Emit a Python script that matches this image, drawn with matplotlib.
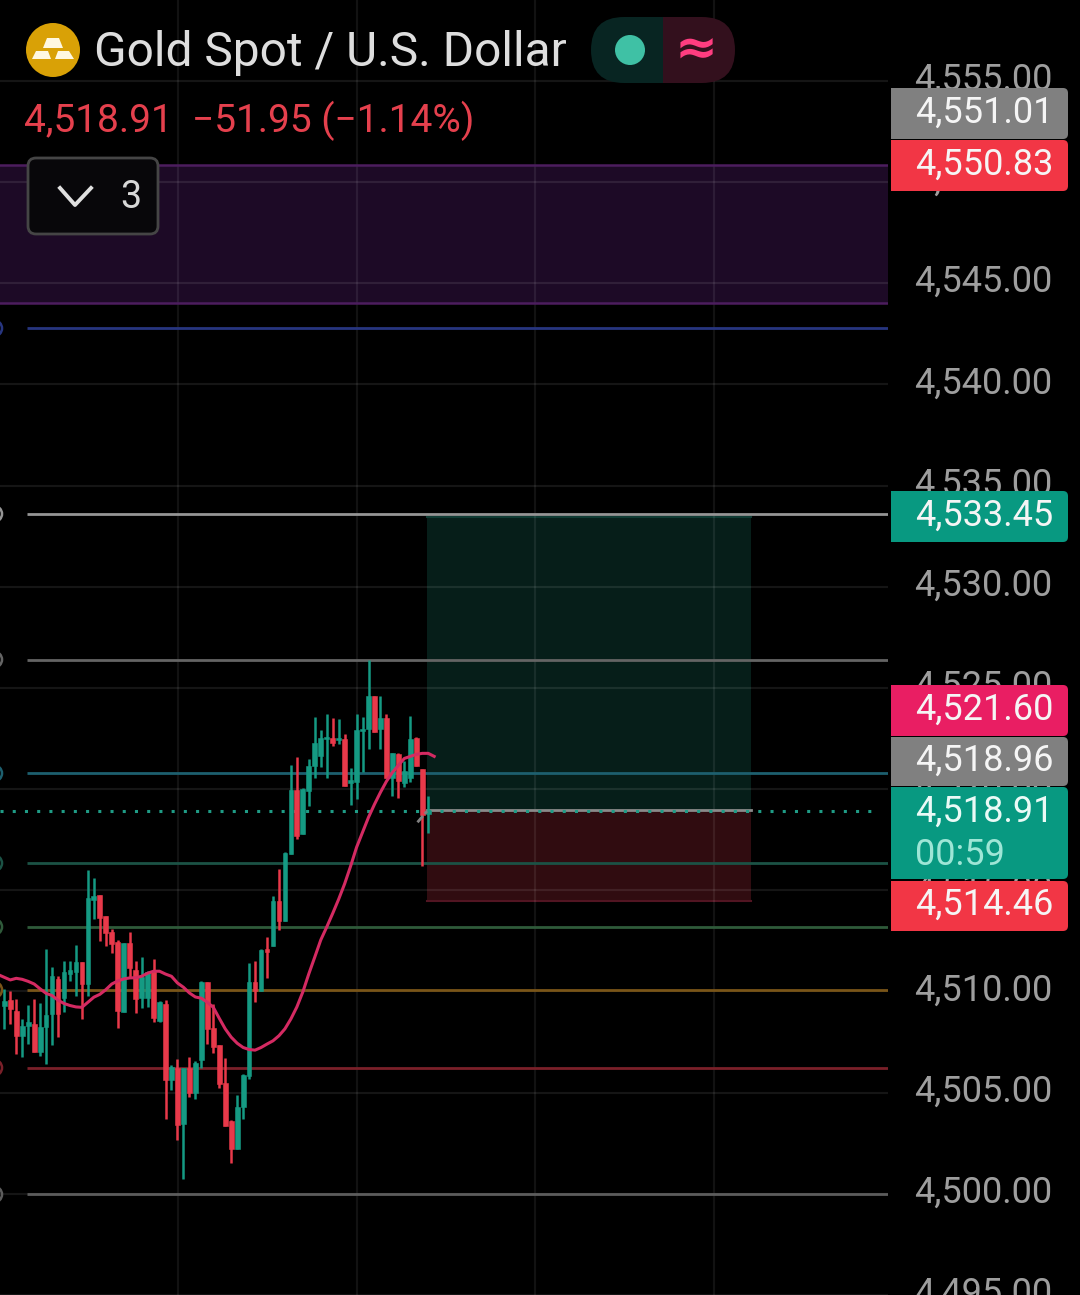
import numpy as np
import matplotlib
matplotlib.use('Agg')
import matplotlib.pyplot as plt
from matplotlib.patches import FancyBboxPatch, Rectangle, Circle, Polygon
from matplotlib.transforms import ScaledTranslation

plt.rcParams['font.family'] = ['Roboto', 'DejaVu Sans']

# candles
opens = [4509.18, 4509.47, 4508.93, 4507.70, 4508.19, 4508.28, 4506.88, 4508.11, 4508.77, 4510.49,
         4509.54, 4510.73, 4510.82, 4511.31, 4510.24, 4514.39, 4514.62, 4513.57, 4512.82, 4512.29,
         4508.85, 4512.26, 4510.95, 4509.54, 4509.54, 4510.82, 4508.44, 4509.26, 4505.49, 4506.09,
         4503.36, 4506.09, 4504.87, 4506.47, 4510.32, 4508.06, 4507.21, 4505.37, 4503.47, 4502.13,
         4504.18, 4505.70, 4510.32, 4509.91, 4511.96, 4512.10, 4514.34, 4513.36, 4516.67, 4519.80,
         4517.62, 4519.75, 4520.98, 4521.47, 4522.33, 4522.38, 4522.26, 4522.33, 4520.13, 4520.20,
         4522.70, 4522.79, 4524.42, 4522.79, 4523.33, 4520.41, 4521.57, 4520.16, 4520.41, 4522.38,
         4520.82, 4518.61]
closes = [4509.42, 4509.01, 4507.67, 4508.19, 4508.36, 4506.91, 4508.14, 4508.72, 4510.65, 4508.77,
          4510.82, 4510.95, 4511.31, 4510.24, 4514.46, 4514.59, 4513.47, 4512.75, 4512.21, 4508.93,
          4512.26, 4511.01, 4509.50, 4510.57, 4510.85, 4508.55, 4509.37, 4505.49, 4506.14, 4503.31,
          4506.09, 4504.88, 4506.36, 4510.36, 4508.03, 4507.13, 4505.32, 4503.24, 4502.13, 4504.18,
          4505.77, 4510.32, 4509.91, 4511.93, 4511.83, 4514.34, 4513.36, 4516.72, 4519.79, 4517.54,
          4519.83, 4520.98, 4522.10, 4522.38, 4522.42, 4522.13, 4522.38, 4520.00, 4520.29, 4522.74,
          4522.82, 4524.46, 4522.67, 4523.33, 4520.41, 4521.61, 4520.24, 4520.74, 4522.34, 4520.98,
          4518.56, 4518.77]
highs = [4510.00, 4509.91, 4509.50, 4508.52, 4509.21, 4509.50, 4509.31, 4511.96, 4511.06, 4510.65,
         4511.39, 4511.39, 4512.16, 4511.31, 4515.85, 4515.49, 4514.62, 4513.57, 4512.95, 4512.41,
         4512.26, 4512.78, 4511.36, 4511.55, 4510.90, 4511.47, 4509.42, 4509.46, 4506.23, 4506.55,
         4506.09, 4506.64, 4506.42, 4510.41, 4510.32, 4509.26, 4507.24, 4506.59, 4503.52, 4504.78,
         4505.82, 4511.28, 4511.39, 4511.96, 4512.54, 4514.59, 4515.93, 4516.77, 4521.06, 4521.44,
         4519.92, 4521.34, 4523.41, 4522.74, 4523.56, 4523.36, 4523.28, 4522.54, 4520.90, 4523.56,
         4523.41, 4526.23, 4524.46, 4524.46, 4523.56, 4521.64, 4521.61, 4521.23, 4523.47, 4522.42,
         4520.85, 4519.51]
lows = [4508.03, 4508.28, 4506.80, 4506.64, 4507.29, 4506.88, 4506.69, 4506.31, 4507.21, 4507.65,
        4508.85, 4510.41, 4509.64, 4508.52, 4509.64, 4513.44, 4512.37, 4512.13, 4511.77, 4508.08,
        4508.85, 4510.57, 4508.82, 4509.06, 4509.09, 4508.39, 4508.39, 4503.60, 4505.00, 4502.54,
        4500.62, 4504.67, 4504.59, 4506.09, 4507.29, 4506.85, 4505.11, 4503.24, 4501.44, 4502.10,
        4503.60, 4505.57, 4509.34, 4509.88, 4510.52, 4512.10, 4512.92, 4513.36, 4516.67, 4517.38,
        4517.62, 4519.02, 4520.38, 4520.93, 4520.38, 4521.97, 4522.08, 4520.00, 4519.06, 4519.34,
        4520.70, 4521.80, 4522.67, 4521.83, 4520.38, 4519.51, 4519.39, 4519.95, 4520.20, 4520.98,
        4516.06, 4517.67]

# moving average, starts one bar before the first candle
ma_values = [4510.70, 4510.57, 4510.44, 4510.52, 4510.47, 4510.37, 4510.24, 4510.00, 4509.78, 4509.67,
             4509.44, 4509.28, 4509.18, 4509.11, 4509.09, 4509.34, 4509.59, 4509.73, 4509.96, 4510.24,
             4510.39, 4510.49, 4510.54, 4510.55, 4510.62, 4510.77, 4510.87, 4510.87, 4510.73, 4510.62,
             4510.29, 4510.08, 4509.80, 4509.60, 4509.54, 4509.34, 4509.09, 4508.55, 4508.03, 4507.62,
             4507.32, 4507.11, 4507.01, 4506.98, 4507.11, 4507.28, 4507.44, 4507.69, 4508.03, 4508.52,
             4509.11, 4509.85, 4510.74, 4511.57, 4512.41, 4513.05, 4513.72, 4514.42, 4515.18, 4516.05,
             4516.98, 4517.72, 4518.46, 4519.10, 4519.69, 4520.23, 4520.67, 4521.02, 4521.36, 4521.46,
             4521.56, 4521.61, 4521.61, 4521.46]

# horizontal levels drawn on the chart
level_prices = [4542.77, 4533.60, 4526.40, 4520.78, 4516.34, 4513.19, 4510.08, 4506.23, 4499.97]
level_colors = ['#27357f', '#959595', '#646464', '#1d5f6e', '#1b5245', '#2f5a3a', '#7a5518', '#7a2029', '#5c5c5c']

# purple zone and long position
zone_top, zone_bottom = 4550.83, 4544.00
target_price, entry_price, stop_price = 4533.45, 4518.91, 4514.46
position_start, position_end = 70.8, 125.1

# price axis
y_ticks = list(range(4495, 4560, 5))
time_grid = [29.1, 59.0, 88.9, 118.9]

# labels on the price scale: text, top px, bottom px, colour
tag_texts = ['4,551.01', '4,550.83', '4,533.45', '4,521.60', '4,518.96', '4,518.91', '4,514.46']
tag_tops = [88, 140, 491, 685, 737, 787, 881]
tag_bottoms = [139, 191, 542, 736, 786, 879, 931]
tag_colors = ['#808080', '#f23645', '#089981', '#e91e63', '#808080', '#089981', '#f23645']


def on_axis(v):
    # candle readings were taken with a rough 20.33 px/$ scale, the axis grid is 20.28 px/$
    return 4510.128 + 1.002465 * (np.array(v) - 4510)


fig = plt.figure(figsize=(10.8, 12.95), dpi=100, facecolor='black')
ax = fig.add_axes([0, 0, 888 / 1080, 1], facecolor='black')
ax.set_ylim(4495.14, 4558.995)
for s in ax.spines.values():
    s.set_visible(False)

ax.set_xticks([])
ax.set_yticks(y_ticks)
ax.set_yticklabels([f'{t:,.2f}' for t in y_ticks])
ax.yaxis.tick_right()
ax.tick_params(axis='y', length=0, pad=19, labelsize=26, labelcolor='#9e9e9e')
lift = ScaledTranslation(0, 5 / 100, fig.dpi_scale_trans)
for lab in ax.get_yticklabels():
    lab.set_transform(lab.get_transform() + lift)

# zone
ax.axhspan(zone_bottom, zone_top, facecolor='#1d0a26', edgecolor='none', zorder=1)
ax.axhline(zone_top, color='#4c1d5e', lw=1.8, zorder=3)
ax.axhline(zone_bottom, color='#4c1d5e', lw=1.8, zorder=3)

# position box
ax.fill_between([position_start, position_end], entry_price, target_price, color='#061e19', lw=0, zorder=1)
ax.fill_between([position_start, position_end], stop_price, entry_price, color='#300c10', lw=0, zorder=1)
ax.plot([position_start, position_end], [target_price] * 2, color='#0e3a32', lw=1.5, zorder=2)
ax.plot([position_start, position_end], [stop_price] * 2, color='#521522', lw=1.5, zorder=2)

# grid goes over the fills
ax.grid(axis='y', color='white', alpha=0.085, lw=1.6, zorder=2)
ax.set_axisbelow(False)
for line in ax.get_ygridlines():
    line.set_zorder(2)
for g in time_grid:
    ax.axvline(g, color='white', alpha=0.075, lw=1.6, zorder=2)

# levels
ax.hlines(level_prices, 3.8, 148.0, colors=level_colors, lw=2, zorder=3)
ax.scatter([-1.72] * len(level_prices), level_prices, s=133, facecolor='none',
           edgecolor=level_colors, lw=1.8, zorder=3)

# entry line then the dotted last price line
ax.plot([position_start, position_end], [entry_price + 0.05] * 2, color='#8a8a8a', lw=2, zorder=3)
ax.hlines(entry_price, -0.72, 146.6, colors='#1f9c86', lw=2.2, linestyles=(0, (1, 3)), zorder=3)
ax.plot([69.2, 70.8], [entry_price - 0.55, entry_price], color='#808080', lw=2, ls=(0, (3, 1)), zorder=6)

# candles
x = np.arange(len(opens))
op = on_axis(opens)
cl = on_axis(closes)
colors = ['#159a83' if c >= o else '#e8394a' for o, c in zip(op, cl)]
ax.vlines(x, on_axis(lows), on_axis(highs), colors=colors, lw=1.8, zorder=4)
ax.bar(x, np.abs(cl - op), bottom=np.minimum(op, cl), width=0.8, color=colors,
       edgecolor=colors, lw=0.4, zorder=4)

# ma line
ax.plot(np.arange(-1, len(ma_values) - 1), on_axis(ma_values), color='#d42a62', lw=2.2, zorder=5)

ax.set_xlim(-0.72, 148.0)

# everything that sits on top of the chart, in screen pixels
ui = fig.add_axes([0, 0, 1, 1], facecolor='none')
ui.set_xlim(0, 1080)
ui.set_ylim(1295, 0)
ui.axis('off')

for txt, t, b, c in zip(tag_texts, tag_tops, tag_bottoms, tag_colors):
    ui.add_patch(FancyBboxPatch((894, t + 3), 171, b - t - 6, boxstyle='round,pad=3,rounding_size=5',
                                facecolor=c, edgecolor='none'))
    ui.add_patch(Rectangle((891, t), 20, b - t, facecolor=c, edgecolor='none'))
    if txt == '4,518.91':
        ui.text(915, 812, txt, color='#eafaf6', fontsize=26, va='center', ha='left')
        ui.text(915, 855, '00:59', color='#9ee6d6', fontsize=26, va='center', ha='left')
    else:
        ui.text(915, (t + b) / 2 - 1, txt, color='#f5f5f5', fontsize=26, va='center', ha='left')

# header
ui.add_patch(Circle((53, 50), 27, facecolor='#d9a106', edgecolor='none'))
ui.add_patch(Polygon([(47, 38), (59, 38), (63, 48), (43, 48)], facecolor='#fff8e0', edgecolor='none'))
ui.add_patch(Polygon([(36, 51), (48, 51), (51, 59), (32, 59)], facecolor='#fff8e0', edgecolor='none'))
ui.add_patch(Polygon([(58, 51), (69, 51), (74, 59), (55, 59)], facecolor='#fff8e0', edgecolor='none'))
ui.text(94, 53, 'Gold Spot / U.S. Dollar', color='#dedede', fontsize=34.5, va='center', ha='left')
ui.text(24, 121, '4,518.91', color='#e5404d', fontsize=28, va='center', ha='left')
ui.text(192, 121, '\u221251.95 (\u22121.14%)', color='#e5404d', fontsize=28, va='center', ha='left')

# status pill
pill_a = FancyBboxPatch((591 + 33, 17 + 33), 144 - 66, 0, boxstyle='round,pad=33,rounding_size=33',
                        facecolor='#082522', edgecolor='none')
pill_b = FancyBboxPatch((591 + 33, 17 + 33), 144 - 66, 0, boxstyle='round,pad=33,rounding_size=33',
                        facecolor='#33101d', edgecolor='none')
ui.add_patch(pill_a)
ui.add_patch(pill_b)
pill_a.set_clip_path(Rectangle((591, 17), 72, 66, transform=ui.transData))
pill_b.set_clip_path(Rectangle((663, 17), 72, 66, transform=ui.transData))
ui.add_patch(Circle((630, 50), 15, facecolor='#3fc1a5', edgecolor='none'))
ui.text(696, 51, '\u2248', color='#ff3d80', fontsize=37, fontweight='bold', va='center', ha='center',
        family='DejaVu Sans')

# collapse button
ui.add_patch(FancyBboxPatch((32, 162), 122, 68, boxstyle='round,pad=4,rounding_size=8',
                            facecolor='#08070a', edgecolor='#454545', lw=2))
ui.plot([60, 75, 91], [188, 205, 188], color='#e0e0e0', lw=2.8)
ui.text(131, 197, '3', color='#d8d8d8', fontsize=27, va='center', ha='center')

fig.savefig('out.png', dpi=100, facecolor='black')
